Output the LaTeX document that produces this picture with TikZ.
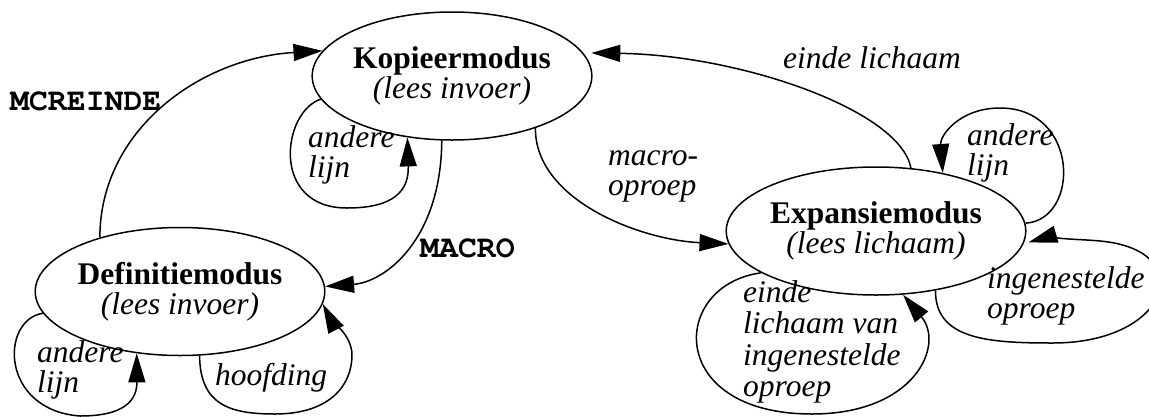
\documentclass[tikz,border=0pt]{standalone}
\usepackage{fontspec}
\setmainfont{Liberation Serif}
\newfontfamily\cursorfont{TeX Gyre Cursor}
\usetikzlibrary{arrows.meta,shapes.geometric}
% left-aligned block whose baseline is that of its first line
\newcommand\lblstack[1]{\begin{tabular}[t]{@{}l@{}}#1\end{tabular}}
\begin{document}
\begin{tikzpicture}[x=1pt,y=-1pt,
  every node/.style={font=\fontsize{31.5}{30}\selectfont},
  state/.style={draw, ellipse, line width=1.5pt, minimum width=250pt,
    minimum height=128pt, inner sep=0pt, align=center},
  edge/.style={line width=1.5pt, -{Triangle[length=29pt,width=17pt]}},
  lbl/.style={anchor=base west, inner sep=0pt,
    font=\fontsize{31.5}{30}\selectfont\itshape},
  kw/.style={anchor=base west, inner sep=0pt,
    font=\fontsize{31.5}{30}\selectfont\cursorfont\bfseries}]
\useasboundingbox (0,0) rectangle (1149,416);
\clip (0,0) rectangle (1149,416);

% states
\node[state] (K) at (452,76)    {\textbf{Kopieermodus}\\\textit{(lees invoer)}};
\node[state] (D) at (180,291.5) {\textbf{Definitiemodus}\\\textit{(lees invoer)}};
\node[state] (E) at (876,231)   {\textbf{Expansiemodus}\\\textit{(lees lichaam)}};

% transitions between states
\draw[edge] (D.146) .. controls (100,130) and (200,58) .. (K.169);
\draw[edge] (K.261) .. controls (441,240) and (385,282) .. (D.2);
\draw[edge] (K.328) .. controls (535,200) and (640,240) .. (E.185);
\draw[edge, shorten >=8pt] (E.61) .. controls (900,110) and (740,55) .. (K.10);

% self loops
\draw[edge] (K.190) .. controls (282,112) and (270,208) .. (347,208)
  .. controls (395,208) and (409,190) .. (K.234);
\draw[edge] (D.189) .. controls (0,320) and (0,410) .. (80,416)
  .. controls (125,416) and (137,400) .. (D.235);
\draw[edge] (D.287) .. controls (200,405) and (230,414) .. (275,414)
  .. controls (330,414) and (352,385) .. (352,355)
  .. controls (352,335) and (330,318) .. (D.355);
\draw[edge] (E.3) .. controls (1080,220) and (1080,108) .. (1000,108)
  .. controls (960,108) and (940,135) .. (E.41);
\draw[edge] (E.200) .. controls (670,285) and (665,414) .. (812,414)
  .. controls (915,414) and (945,345) .. (E.293);
\draw[edge, shorten >=5pt] (E.315) .. controls (935,340) and (990,343) .. (1053,343)
  .. controls (1170,343) and (1200,250) .. (1100,241)
  .. controls (1080,239) and (1040,239) .. (E.355);

% labels
\node[kw]  (lMcr)  at (10,110)  {MCREINDE};
\node[kw]  (lMac)  at (420,257) {MACRO};
\node[lbl] (lKl)   at (308,147) {\lblstack{andere\\lijn}};
\node[lbl] (lMo)   at (608,165) {\lblstack{macro-\\oproep}};
\node[lbl] (lEl)   at (783,68)  {einde lichaam};
\node[lbl] (lEa)   at (967,145) {\lblstack{andere\\lijn}};
\node[lbl, font=\fontsize{31.5}{31.5}\selectfont\itshape]
           (lEi)   at (743,302) {\lblstack{einde\\lichaam van\\ingenestelde\\oproep}};
\node[lbl] (lEn)   at (987,288) {\lblstack{ingenestelde\\oproep}};
\node[lbl] (lDa)   at (37,362)  {\lblstack{andere\\lijn}};
\node[lbl] (lDh)   at (215,385) {hoofding};
\end{tikzpicture}
\end{document}
